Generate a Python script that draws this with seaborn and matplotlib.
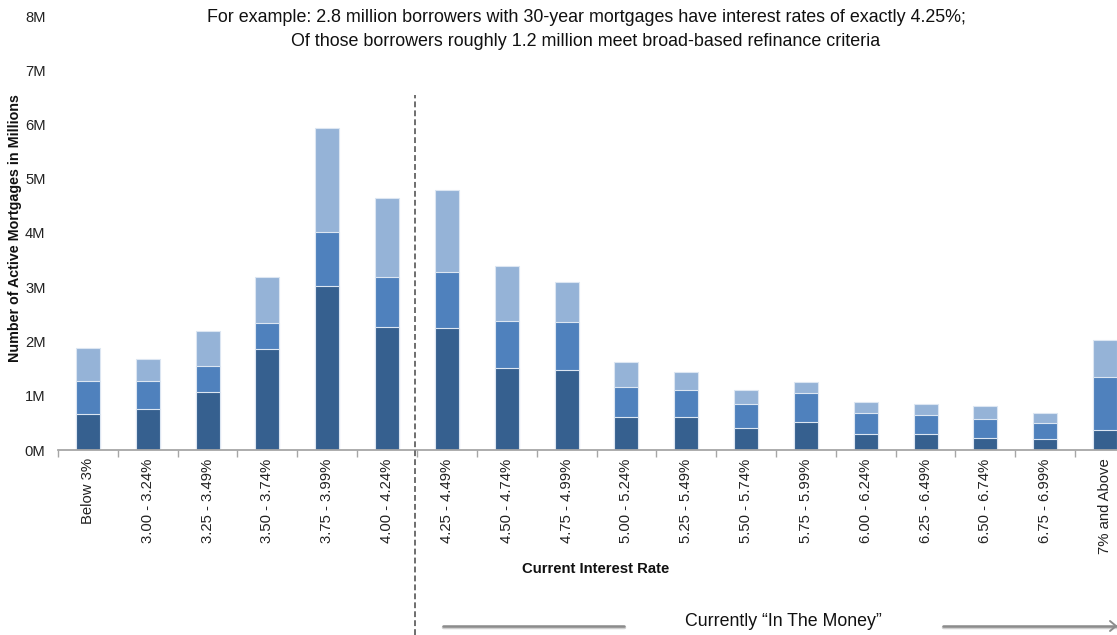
import matplotlib
matplotlib.use("Agg")
import matplotlib.pyplot as plt
import matplotlib.transforms as mtransforms
from matplotlib.lines import Line2D
import numpy as np
import pandas as pd
import seaborn as sns

# Interest-rate buckets (x axis)
rate_buckets = [
    "Below 3%", "3.00 - 3.24%", "3.25 - 3.49%", "3.50 - 3.74%", "3.75 - 3.99%",
    "4.00 - 4.24%", "4.25 - 4.49%", "4.50 - 4.74%", "4.75 - 4.99%", "5.00 - 5.24%",
    "5.25 - 5.49%", "5.50 - 5.74%", "5.75 - 5.99%", "6.00 - 6.24%", "6.25 - 6.49%",
    "6.50 - 6.74%", "6.75 - 6.99%", "7% and Above",
]

# Active mortgages in millions, one list per stacked segment (bottom to top)
segment_bottom = [0.66, 0.76, 1.06, 1.87, 3.03, 2.27, 2.25, 1.52, 1.48, 0.61,
                  0.60, 0.40, 0.52, 0.30, 0.29, 0.23, 0.20, 0.36]
segment_middle = [0.61, 0.51, 0.48, 0.48, 0.99, 0.91, 1.04, 0.86, 0.88, 0.56,
                  0.51, 0.45, 0.53, 0.38, 0.355, 0.35, 0.30, 0.99]
segment_top = [0.605, 0.40, 0.65, 0.84, 1.92, 1.47, 1.51, 1.02, 0.74, 0.46,
               0.33, 0.26, 0.20, 0.205, 0.205, 0.225, 0.19, 0.68]

y_ticks = [0, 1, 2, 3, 4, 5, 6, 7, 8]
y_tick_labels = [f"{v}M" for v in y_ticks]

df = pd.DataFrame({
    "bucket": rate_buckets,
    "bottom": segment_bottom,
    "middle": segment_middle,
    "top": segment_top,
})
df["cum_middle"] = df["bottom"] + df["middle"]
df["cum_top"] = df["cum_middle"] + df["top"]

sns.set_theme(style="white")
plt.rcParams["font.family"] = ["Liberation Sans", "DejaVu Sans"]

W, H = 1117, 635
fig = plt.figure(figsize=(W / 100, H / 100), dpi=100)
ax = fig.add_axes([58 / W, 1 - 450 / H, 1077 / W, 434 / H])

c_dark, c_mid, c_light = "#36608f", "#4f81bd", "#95b3d7"
edge = "#dce6f2"
bw = 0.4
for col, color in [("cum_top", c_light), ("cum_middle", c_mid), ("bottom", c_dark)]:
    sns.barplot(data=df, x="bucket", y=col, color=color, width=bw,
                edgecolor=edge, linewidth=0.8, saturation=1, ax=ax)

ax.set_xlim(-0.5, len(rate_buckets) - 0.5)
ax.set_ylim(0, 8)
ax.set_yticks(y_ticks)
ax.set_yticklabels(y_tick_labels)
ax.set_xlabel("")
ax.set_ylabel("")

for side in ["top", "right", "left"]:
    ax.spines[side].set_visible(False)
ax.spines["bottom"].set_color("#a6a6a6")
ax.spines["bottom"].set_linewidth(1.3)

ax.tick_params(axis="y", length=0, pad=9, labelsize=10.6, labelcolor="#222222")
ax.tick_params(axis="x", which="major", length=0, pad=6, labelsize=10.7,
               labelcolor="#222222", labelrotation=90)
ax.set_xticks(np.arange(-0.5, len(rate_buckets), 1.0), minor=True)
ax.tick_params(axis="x", which="minor", length=5, width=1, color="#a6a6a6",
               bottom=True)

# Divider between current-rate buckets and "in the money" buckets
trans = mtransforms.blended_transform_factory(ax.transData, fig.transFigure)
ax.plot([5.47, 5.47], [0, 1 - 95 / H], transform=trans, color="#6e6e6e",
        linestyle=(0, (3, 1.6)), linewidth=1.4, clip_on=False, zorder=5)

# Headline annotation
fig.text(586 / W, 1 - 18 / H,
         "For example: 2.8 million borrowers with 30-year mortgages have interest rates of exactly 4.25%;",
         ha="center", va="center", fontsize=12.9, color="#111111")
fig.text(586 / W, 1 - 42 / H,
         "Of those borrowers roughly 1.2 million meet broad-based refinance criteria",
         ha="center", va="center", fontsize=12.9, color="#111111")

# Axis titles
fig.text(596 / W, 1 - 569 / H, "Current Interest Rate", ha="center", va="center",
         fontsize=10.7, fontweight="bold", color="#111111")
fig.text(15 / W, 1 - 228 / H, "Number of Active Mortgages in Millions", ha="center",
         va="center", rotation=90, fontsize=10.3, fontweight="bold", color="#111111")

# "In the money" arrow
yy = 1 - 626 / H
for xs in ([443, 624], [943, 1117]):
    fig.add_artist(Line2D([xs[0] / W, xs[1] / W], [yy - 1.2 / H, yy - 1.2 / H],
                          transform=fig.transFigure, color="#d0d0d0", linewidth=2.5))
    fig.add_artist(Line2D([xs[0] / W, xs[1] / W], [yy, yy],
                          transform=fig.transFigure, color="#8c8c8c", linewidth=1.8))
fig.add_artist(Line2D([1110 / W, 1116 / W, 1110 / W],
                      [yy + 5 / H, yy, yy - 5 / H], transform=fig.transFigure,
                      color="#8c8c8c", linewidth=1.4))
fig.text(783 / W, 1 - 621 / H, "Currently \u201cIn The Money\u201d", ha="center",
         va="center", fontsize=12.8, color="#111111")

fig.savefig("out.png", dpi=100)
